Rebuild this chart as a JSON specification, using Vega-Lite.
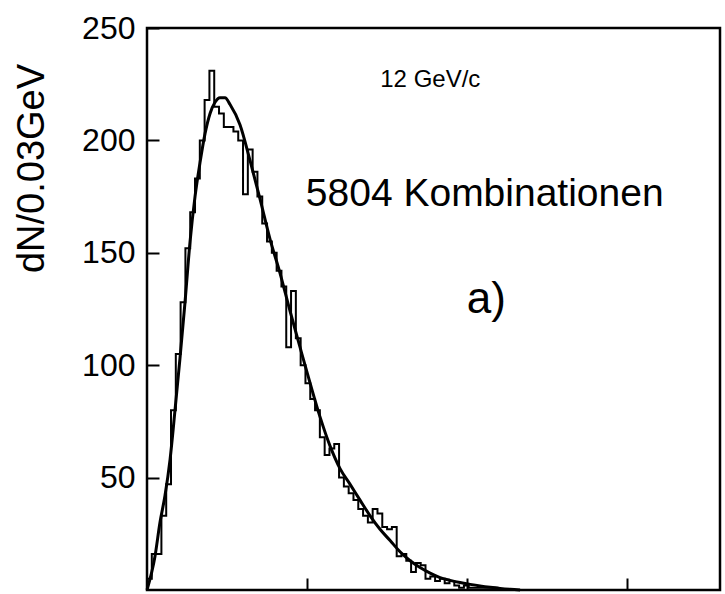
{
  "$schema": "https://vega.github.io/schema/vega-lite/v6.json",
  "width": 573,
  "height": 562,
  "autosize": "none",
  "padding": {"left": 147, "top": 28, "right": 5, "bottom": 4},
  "background": "white",
  "config": {
    "view": {"stroke": "black", "strokeWidth": 2.5},
    "font": "Liberation Sans, sans-serif"
  },
  "datasets": {
    "hist": [
      {"m": 0.00, "n": 5}, {"m": 0.03, "n": 16}, {"m": 0.06, "n": 16}, {"m": 0.09, "n": 33},
      {"m": 0.12, "n": 47}, {"m": 0.15, "n": 80}, {"m": 0.18, "n": 105}, {"m": 0.21, "n": 128},
      {"m": 0.24, "n": 152}, {"m": 0.27, "n": 168}, {"m": 0.30, "n": 183}, {"m": 0.33, "n": 200},
      {"m": 0.36, "n": 218}, {"m": 0.39, "n": 231}, {"m": 0.42, "n": 215}, {"m": 0.45, "n": 212},
      {"m": 0.48, "n": 206}, {"m": 0.51, "n": 206}, {"m": 0.54, "n": 204}, {"m": 0.57, "n": 200},
      {"m": 0.60, "n": 176}, {"m": 0.63, "n": 196}, {"m": 0.66, "n": 186}, {"m": 0.69, "n": 175},
      {"m": 0.72, "n": 163}, {"m": 0.75, "n": 155}, {"m": 0.78, "n": 150}, {"m": 0.81, "n": 142},
      {"m": 0.84, "n": 135}, {"m": 0.87, "n": 108}, {"m": 0.90, "n": 133}, {"m": 0.93, "n": 112},
      {"m": 0.96, "n": 100}, {"m": 0.99, "n": 92}, {"m": 1.02, "n": 85}, {"m": 1.05, "n": 80},
      {"m": 1.08, "n": 68}, {"m": 1.11, "n": 60}, {"m": 1.14, "n": 63}, {"m": 1.17, "n": 65},
      {"m": 1.20, "n": 50}, {"m": 1.23, "n": 46}, {"m": 1.26, "n": 43}, {"m": 1.29, "n": 40},
      {"m": 1.32, "n": 36}, {"m": 1.35, "n": 33}, {"m": 1.38, "n": 30}, {"m": 1.41, "n": 36},
      {"m": 1.44, "n": 34}, {"m": 1.47, "n": 28}, {"m": 1.50, "n": 27}, {"m": 1.53, "n": 28},
      {"m": 1.56, "n": 15}, {"m": 1.59, "n": 16}, {"m": 1.62, "n": 13}, {"m": 1.65, "n": 8},
      {"m": 1.68, "n": 12}, {"m": 1.71, "n": 11}, {"m": 1.74, "n": 5}, {"m": 1.77, "n": 6},
      {"m": 1.80, "n": 4}, {"m": 1.83, "n": 5}, {"m": 1.86, "n": 3}, {"m": 1.89, "n": 4},
      {"m": 1.92, "n": 2}, {"m": 1.95, "n": 1}, {"m": 1.98, "n": 2}, {"m": 2.01, "n": 1},
      {"m": 2.04, "n": 1}, {"m": 2.07, "n": 1}, {"m": 2.10, "n": 1}, {"m": 2.13, "n": 1},
      {"m": 2.16, "n": 1}, {"m": 2.19, "n": 0}, {"m": 2.22, "n": 0}
    ],
    "fit": [
      {"m": 0.0, "f": 0}, {"m": 0.05, "f": 15}, {"m": 0.081, "f": 30}, {"m": 0.1125, "f": 42},
      {"m": 0.144, "f": 58}, {"m": 0.175, "f": 80}, {"m": 0.206, "f": 103}, {"m": 0.2375, "f": 128},
      {"m": 0.269, "f": 155}, {"m": 0.3, "f": 175}, {"m": 0.331, "f": 190}, {"m": 0.3625, "f": 203},
      {"m": 0.394, "f": 212}, {"m": 0.425, "f": 217}, {"m": 0.456, "f": 219}, {"m": 0.4875, "f": 219},
      {"m": 0.519, "f": 216}, {"m": 0.581, "f": 207}, {"m": 0.644, "f": 191}, {"m": 0.706, "f": 174},
      {"m": 0.769, "f": 156}, {"m": 0.831, "f": 141}, {"m": 0.894, "f": 124}, {"m": 0.956, "f": 108},
      {"m": 1.019, "f": 92}, {"m": 1.081, "f": 77}, {"m": 1.144, "f": 64}, {"m": 1.206, "f": 54},
      {"m": 1.269, "f": 47}, {"m": 1.331, "f": 40}, {"m": 1.394, "f": 33}, {"m": 1.456, "f": 27},
      {"m": 1.519, "f": 22}, {"m": 1.581, "f": 17}, {"m": 1.644, "f": 13}, {"m": 1.706, "f": 10},
      {"m": 1.769, "f": 7.5}, {"m": 1.831, "f": 5.5}, {"m": 1.894, "f": 4.3}, {"m": 1.956, "f": 3.3},
      {"m": 2.019, "f": 2.5}, {"m": 2.081, "f": 1.8}, {"m": 2.144, "f": 1.2}, {"m": 2.206, "f": 0.7},
      {"m": 2.269, "f": 0.3}, {"m": 2.331, "f": 0}
    ]
  },
  "layer": [
    {
      "data": {"name": "hist"},
      "mark": {"type": "line", "interpolate": "step-after", "color": "black", "strokeWidth": 2},
      "encoding": {
        "x": {
          "field": "m", "type": "quantitative",
          "scale": {"domain": [0, 3.58], "nice": false, "zero": false},
          "axis": {
            "title": null, "labels": false, "values": [1, 2, 3], "domain": false,
            "tickSize": -12, "tickWidth": 2, "tickColor": "black", "grid": false
          }
        },
        "y": {
          "field": "n", "type": "quantitative",
          "scale": {"domain": [0, 250], "nice": false},
          "axis": {
            "title": "dN/0.03GeV", "titleFontSize": 38, "titleFontWeight": "normal",
            "titleColor": "black", "titlePadding": 30, "titleY": 140, "titleAlign": "center",
            "values": [50, 100, 150, 200, 250], "labelFontSize": 32, "labelColor": "black",
            "labelPadding": 24, "domain": false, "grid": false,
            "tickSize": -12, "tickWidth": 2, "tickColor": "black"
          }
        }
      }
    },
    {
      "data": {"name": "fit"},
      "mark": {"type": "line", "interpolate": "monotone", "color": "black", "strokeWidth": 3},
      "encoding": {
        "x": {"field": "m", "type": "quantitative"},
        "y": {"field": "f", "type": "quantitative"}
      }
    },
    {
      "data": {"values": [{}]},
      "mark": {"type": "text", "text": "12 GeV/c", "fontSize": 24, "color": "black", "align": "center", "baseline": "middle"},
      "encoding": {"x": {"datum": 1.77}, "y": {"datum": 227}}
    },
    {
      "data": {"values": [{}]},
      "mark": {"type": "text", "text": "5804 Kombinationen", "fontSize": 39, "color": "black", "align": "center", "baseline": "middle"},
      "encoding": {"x": {"datum": 2.11}, "y": {"datum": 176}}
    },
    {
      "data": {"values": [{}]},
      "mark": {"type": "text", "text": "a)", "fontSize": 44, "color": "black", "align": "center", "baseline": "middle"},
      "encoding": {"x": {"datum": 2.12}, "y": {"datum": 129}}
    }
  ]
}
